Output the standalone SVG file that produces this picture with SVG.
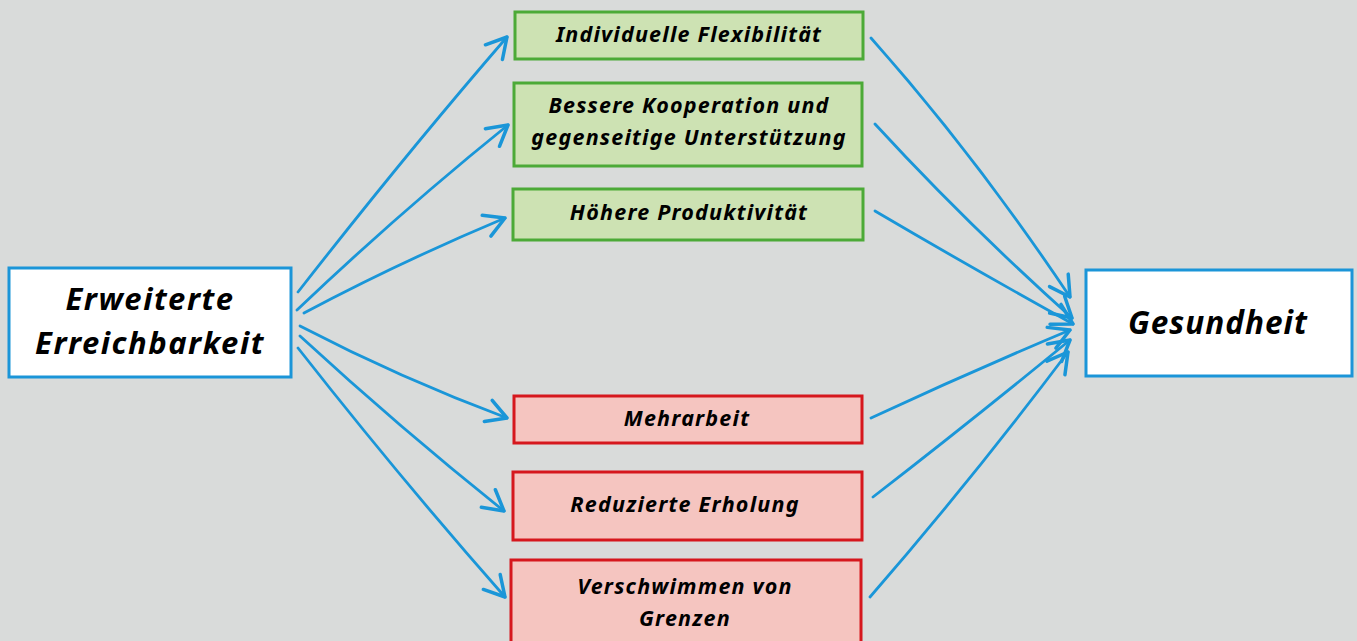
<svg xmlns="http://www.w3.org/2000/svg" width="1357" height="641" viewBox="0 0 1357 641">
<defs>
<style>
.bg{fill:#d9dbda}
.blue{fill:#ffffff;stroke:#1b95d8;stroke-width:3}
.green{fill:#cde2b3;stroke:#4caa37;stroke-width:3}
.red{fill:#f5c5c0;stroke:#d6171d;stroke-width:3}
.t{font-family:"Noto Sans","DejaVu Sans",sans-serif;font-style:italic;font-weight:bold;fill:#000;text-anchor:middle}
.s{font-size:21.5px;letter-spacing:1.2px}
.b{font-size:31px;letter-spacing:1.5px}
.c{fill:none;stroke:#1a96d8;stroke-width:2.8;stroke-linecap:round}
</style>
<marker id="ah" markerUnits="userSpaceOnUse" markerWidth="30" markerHeight="30" refX="0" refY="0" viewBox="-20 -12 24 24" orient="auto">
<path d="M-16,-9 L0,0 L-16,9" fill="none" stroke="#1a96d8" stroke-width="2.8" stroke-linecap="round" stroke-linejoin="round"/>
</marker>
</defs>
<rect class="bg" x="0" y="0" width="1357" height="641"/>
<g id="connectors">
<path class="c" marker-end="url(#ah)" d="M298,292 Q405,155 507,37"/>
<path class="c" marker-end="url(#ah)" d="M297,310 Q400,212 508,125"/>
<path class="c" marker-end="url(#ah)" d="M304,313 Q400,262 505,218"/>
<path class="c" marker-end="url(#ah)" d="M300,326 Q400,378 507,418"/>
<path class="c" marker-end="url(#ah)" d="M300,336 Q400,428 504,511"/>
<path class="c" marker-end="url(#ah)" d="M298,348 Q400,478 505,597"/>
<path class="c" marker-end="url(#ah)" d="M871,38 Q975,155 1070,297"/>
<path class="c" marker-end="url(#ah)" d="M875,124 Q965,222 1072,318"/>
<path class="c" marker-end="url(#ah)" d="M875,211 Q972,268 1073,324"/>
<path class="c" marker-end="url(#ah)" d="M871,418 Q970,372 1070,330"/>
<path class="c" marker-end="url(#ah)" d="M873,497 Q970,422 1070,340"/>
<path class="c" marker-end="url(#ah)" d="M870,597 Q970,482 1068,352"/>
</g>
<g id="n-erreichbarkeit">
<rect class="blue" x="9" y="268" width="282" height="109"/>
<text class="t b" x="150" y="310">Erweiterte</text>
<text class="t b" x="150" y="354">Erreichbarkeit</text>
</g>
<g id="n-gesundheit">
<rect class="blue" x="1086" y="270" width="266" height="106"/>
<text class="t b" x="1218" y="334" style="font-size:31.5px;letter-spacing:1px">Gesundheit</text>
</g>
<g id="n-flex">
<rect class="green" x="515" y="12" width="348" height="47"/>
<text class="t s" x="689" y="42">Individuelle Flexibilität</text>
</g>
<g id="n-koop">
<rect class="green" x="514" y="83" width="348" height="83"/>
<text class="t s" x="689" y="113">Bessere Kooperation und</text>
<text class="t s" x="689" y="145">gegenseitige Unterstützung</text>
</g>
<g id="n-prod">
<rect class="green" x="513" y="189" width="350" height="51"/>
<text class="t s" x="689" y="220">Höhere Produktivität</text>
</g>
<g id="n-mehr">
<rect class="red" x="514" y="396" width="348" height="47"/>
<text class="t s" x="687" y="426">Mehrarbeit</text>
</g>
<g id="n-erholung">
<rect class="red" x="513" y="472" width="349" height="68"/>
<text class="t s" x="685" y="512">Reduzierte Erholung</text>
</g>
<g id="n-grenzen">
<rect class="red" x="511" y="560" width="350" height="85"/>
<text class="t s" x="685" y="594">Verschwimmen von</text>
<text class="t s" x="685" y="626">Grenzen</text>
</g>
</svg>
